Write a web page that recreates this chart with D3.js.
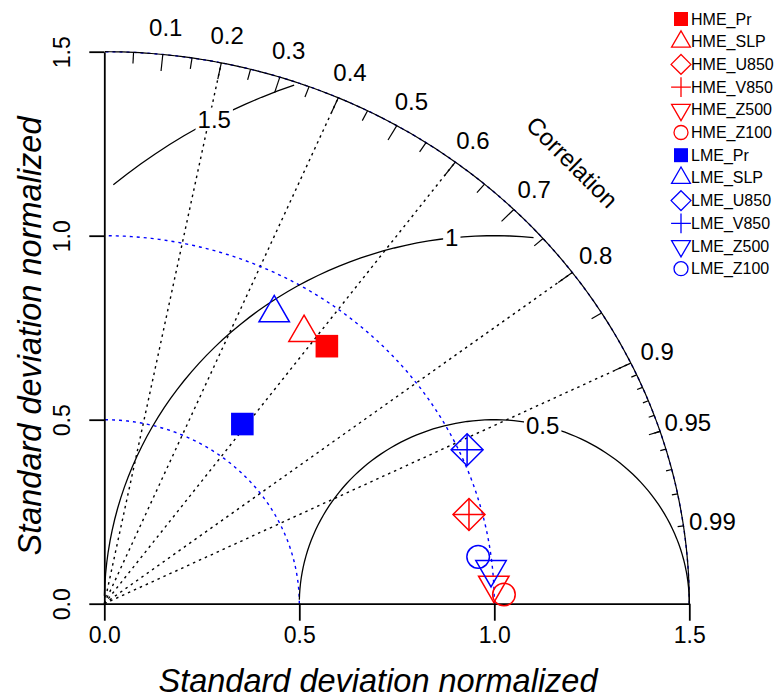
<!DOCTYPE html>
<html>
<head>
<meta charset="utf-8">
<script src="https://cdn.jsdelivr.net/npm/d3@7"></script>
<style>
body { margin: 0; background: #fff; }
text { font-family: "Liberation Sans", Arial, sans-serif; }
</style>
</head>
<body>
<svg id="chart" width="777" height="698"></svg>
<script>
// normalized standard deviation and correlation of each field
var hmeNames = ["HME_Pr", "HME_SLP", "HME_U850", "HME_V850", "HME_Z500", "HME_Z100"];
var hmeSd    = [0.903, 0.897, 0.966, 0.966, 1.000, 1.025];
var hmeCor   = [0.632, 0.571, 0.968, 0.968, 0.9987, 0.9997];

var lmeNames = ["LME_Pr", "LME_SLP", "LME_U850", "LME_V850", "LME_Z500", "LME_Z100"];
var lmeSd    = [0.603, 0.902, 1.020, 1.020, 0.996, 0.967];
var lmeCor   = [0.587, 0.483, 0.912, 0.912, 0.9956, 0.9913];

var symbols = ["square", "triangle", "diamond", "plus", "triangleDown", "circle"];

var sdTicks      = [0, 0.5, 1.0, 1.5];
var corLabels    = [0.1, 0.2, 0.3, 0.4, 0.5, 0.6, 0.7, 0.8, 0.9, 0.95, 0.99];
var gradCorLines = [0.2, 0.4, 0.6, 0.8, 0.9];
var gammaLevels  = [0.5, 1, 1.5];
var sdArcs       = [0.5, 1.0, 1.5];

var maxsd = 1.5, sdRef = 1;

var svg = d3.select("#chart");

// the plot region is not square in pixels (as in the R device)
var x = d3.scaleLinear().domain([0, maxsd]).range([104.3, 689.3]);
var y = d3.scaleLinear().domain([0, maxsd]).range([603.7, 51.7]);

var line = d3.line()
  .x(function(d) { return x(d[0]); })
  .y(function(d) { return y(d[1]); });

function arcPts(r, a0, a1, step) {
  var pts = [];
  for (var a = a0; a <= a1 + 1e-9; a += step) pts.push([Math.cos(a) * r, Math.sin(a) * r]);
  return pts;
}

var g = svg.append("g");

// dotted correlation lines
gradCorLines.forEach(function(c) {
  g.append("path")
    .attr("d", line([[0, 0], [maxsd * c, maxsd * Math.sqrt(1 - c * c)]]))
    .attr("fill", "none").attr("stroke", "#000")
    .attr("stroke-width", 1.4).attr("stroke-dasharray", "2.5,4");
});

// blue dotted sd arcs
sdArcs.forEach(function(r) {
  g.append("path")
    .attr("d", line(arcPts(r, 0, Math.PI / 2, 0.01)))
    .attr("fill", "none").attr("stroke", "#0000ff")
    .attr("stroke-width", 1.4).attr("stroke-dasharray", "3,4");
});

// outer arc
g.append("path")
  .attr("d", line(arcPts(maxsd, 0, Math.PI / 2, 0.01)))
  .attr("fill", "none").attr("stroke", "#000").attr("stroke-width", 1.2);

// correlation ticks
function ticks(vals, inner) {
  vals.forEach(function(c) {
    var a = Math.acos(c);
    g.append("path")
      .attr("d", line([[Math.cos(a) * maxsd, Math.sin(a) * maxsd],
                       [Math.cos(a) * inner * maxsd, Math.sin(a) * inner * maxsd]]))
      .attr("stroke", "#000").attr("stroke-width", 1.2);
  });
}
ticks(d3.range(1, 10).map(function(i) { return i / 10; }), 0.97);
ticks(d3.range(0, 10).map(function(i) { return 0.05 + i / 10; }), 0.98);
ticks(d3.range(1, 10).map(function(i) { return 0.9 + i / 100; }), 0.99);

// correlation labels
g.selectAll(".corlab").data(corLabels).enter().append("text")
  .attr("x", function(c) { return x(1.05 * maxsd * c); })
  .attr("y", function(c) { return y(1.05 * maxsd * Math.sqrt(1 - c * c)); })
  .attr("text-anchor", "middle").attr("dominant-baseline", "central")
  .attr("font-size", 24)
  .text(function(c) { return String(c); });

g.append("text")
  .attr("transform", "translate(" + x(0.8 * maxsd) + "," + y(0.8 * maxsd) + ") rotate(45)")
  .attr("text-anchor", "middle").attr("dominant-baseline", "central")
  .attr("font-size", 24)
  .text("Correlation");

// centred RMS (gamma) contours around the reference point
var tSeq = d3.range(0, Math.PI, 0.03);
var labelPos = [45, 57, 70];
gammaLevels.forEach(function(gm, gi) {
  var xc = tSeq.map(function(t) { return Math.cos(t) * gm + sdRef; });
  var yc = tSeq.map(function(t) { return Math.sin(t) * gm; });
  var end = xc.findIndex(function(v) { return v < 0; });
  end = end >= 0 ? end - 1 : xc.length - 1;
  var start = 0;
  xc.forEach(function(v, i) { if (v * v + yc[i] * yc[i] > maxsd * maxsd + 1e-9) start = i + 1; });
  var pts = [];
  for (var i = start; i <= end; i++) pts.push([xc[i], yc[i]]);
  g.append("path").attr("d", line(pts))
    .attr("fill", "none").attr("stroke", "#000").attr("stroke-width", 1.3);

  var li = labelPos[gi] - 1;
  var lx = x(xc[li]), ly = y(yc[li]);
  var txt = g.append("text")
    .attr("x", lx).attr("y", ly)
    .attr("text-anchor", "middle").attr("dominant-baseline", "central")
    .attr("font-size", 24).text(String(gm));
  var bb = txt.node().getBBox();
  g.insert("rect", function() { return txt.node(); })
    .attr("x", bb.x - 2).attr("y", bb.y + 2)
    .attr("width", bb.width + 4).attr("height", bb.height - 4)
    .attr("fill", "#fff");
});

// axes
var xAxis = d3.axisBottom(x).tickValues(sdTicks).tickFormat(d3.format(".1f"))
  .tickSize(17).tickSizeOuter(0);
var gx = svg.append("g").attr("transform", "translate(0," + y(0) + ")").call(xAxis);
gx.selectAll("text").attr("dy", 0).attr("y", 39).attr("font-size", 23).attr("fill", "#000");

var yAxis = d3.axisLeft(y).tickValues(sdTicks).tickFormat(d3.format(".1f"))
  .tickSize(15).tickSizeOuter(0);
var gy = svg.append("g").attr("transform", "translate(" + x(0) + ",0)").call(yAxis);
gy.selectAll(".tick text")
  .attr("x", null).attr("dy", null)
  .attr("transform", "translate(-34,0) rotate(-90)")
  .attr("text-anchor", "middle")
  .attr("font-size", 23).attr("fill", "#000");

svg.selectAll(".domain, .tick line").attr("stroke", "#000").attr("stroke-width", 1.8);
svg.selectAll(".tick text").attr("font-family", "Liberation Sans, Arial, sans-serif");

svg.append("text")
  .attr("x", 378).attr("y", 692)
  .attr("text-anchor", "middle").attr("font-size", 32.5).attr("font-style", "italic")
  .text("Standard deviation normalized");

svg.append("text")
  .attr("transform", "translate(41,336) rotate(-90)")
  .attr("text-anchor", "middle").attr("font-size", 32.5).attr("font-style", "italic")
  .text("Standard deviation normalized");

// marker shapes in the style of R pch 15, 2, 5, 3, 6, 1
function symPath(type, u) {
  var s2 = Math.SQRT2 * u, a = 1.5551 * u, b = 1.3468 * u, c = 0.7776 * u;
  switch (type) {
    case "square": return "M" + (-u) + "," + (-u) + "h" + 2 * u + "v" + 2 * u + "h" + (-2 * u) + "Z";
    case "triangle": return "M0," + (-a) + "L" + b + "," + c + "L" + (-b) + "," + c + "Z";
    case "triangleDown": return "M0," + a + "L" + b + "," + (-c) + "L" + (-b) + "," + (-c) + "Z";
    case "diamond": return "M0," + (-s2) + "L" + s2 + ",0L0," + s2 + "L" + (-s2) + ",0Z";
    case "plus": return "M" + (-s2) + ",0H" + s2 + "M0," + (-s2) + "V" + s2;
    case "circle": return "M" + u + ",0A" + u + "," + u + " 0 1 1 " + (-u) + ",0A" + u + "," + u + " 0 1 1 " + u + ",0Z";
  }
}

// points drawn last field first so the filled squares sit on top
function drawPoints(sds, cors, color) {
  for (var i = sds.length - 1; i >= 0; i--) {
    var px = x(sds[i] * cors[i]), py = y(sds[i] * Math.sqrt(1 - cors[i] * cors[i]));
    var filled = symbols[i] === "square";
    svg.append("path")
      .attr("transform", "translate(" + px + "," + py + ")")
      .attr("d", symPath(symbols[i], 11.3))
      .attr("fill", filled ? color : "none")
      .attr("stroke", filled ? "none" : color)
      .attr("stroke-width", 1.5);
  }
}
drawPoints(hmeSd, hmeCor, "#ff0000");
drawPoints(lmeSd, lmeCor, "#0000ff");

// legend
var legendNames = hmeNames.concat(lmeNames);
var legend = svg.append("g");
legendNames.forEach(function(name, i) {
  var color = i < 6 ? "#ff0000" : "#0000ff";
  var sym = symbols[i % 6];
  var ly = 19 + i * 22.7;
  legend.append("path")
    .attr("transform", "translate(681," + ly + ")")
    .attr("d", symPath(sym, 7))
    .attr("fill", sym === "square" ? color : "none")
    .attr("stroke", sym === "square" ? "none" : color)
    .attr("stroke-width", 1.3);
  legend.append("text")
    .attr("x", 691).attr("y", ly)
    .attr("dominant-baseline", "central")
    .attr("font-size", 16)
    .text(name);
});
</script>
</body>
</html>
